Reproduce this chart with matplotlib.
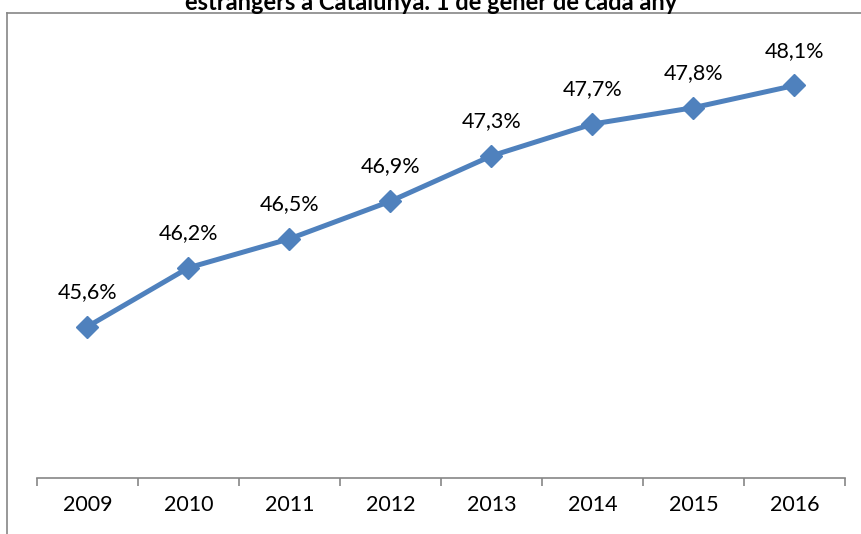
import matplotlib

matplotlib.use("Agg")
import matplotlib.pyplot as plt  # noqa: E402
from matplotlib.lines import Line2D  # noqa: E402

plt.rcParams["font.family"] = ["Lato", "DejaVu Sans"]

TITLE = "estrangers a Catalunya. 1 de gener de cada any"
YEARS = ["2009", "2010", "2011", "2012", "2013", "2014", "2015", "2016"]
SHARE = [45.57, 46.18, 46.48, 46.87, 47.34, 47.67, 47.84, 48.07]

LINE_COLOR = "#4F81BD"
AXIS_COLOR = "#868686"

fig = plt.figure(figsize=(8.62, 5.34), dpi=100)
ax = fig.add_axes([37 / 862, 1 - 478 / 534, 808 / 862, 434 / 534])

x = list(range(len(YEARS)))
ax.plot(x, SHARE, color=LINE_COLOR, linewidth=3.6, marker="D", markersize=11.5,
        markeredgecolor=LINE_COLOR, solid_capstyle="round")
for xi, v in zip(x, SHARE):
    ax.annotate(f"{v:.1f}%".replace(".", ","), (xi, v), xytext=(0, 25),
                textcoords="offset points", ha="center", va="center", fontsize=15.5)

ax.set_xlim(-0.5, len(YEARS) - 0.5)
ax.set_ylim(44, 48.5)
ax.set_xticks(x)
ax.set_xticklabels(YEARS, fontsize=15.5)
ax.set_xticks([i - 0.5 for i in range(len(YEARS) + 1)], minor=True)
ax.tick_params(axis="x", which="major", length=0, pad=12)
ax.tick_params(axis="x", which="minor", length=6, direction="out", color=AXIS_COLOR, width=1.2)
ax.set_yticks([])
for side in ("top", "right", "left"):
    ax.spines[side].set_visible(False)
ax.spines["bottom"].set_color(AXIS_COLOR)
ax.spines["bottom"].set_linewidth(1.2)

# chart-area border (left and top edges visible)
fig.add_artist(Line2D([7 / 862, 7 / 862], [0, 1 - 13 / 534], color=AXIS_COLOR, linewidth=1.2))
fig.add_artist(Line2D([7 / 862, 1], [1 - 13 / 534, 1 - 13 / 534], color=AXIS_COLOR, linewidth=1.2))

fig.text(0.5, 1 - 3 / 534, TITLE, ha="center", va="center", fontsize=17, fontweight="bold")

fig.savefig("out.png", dpi=100)
